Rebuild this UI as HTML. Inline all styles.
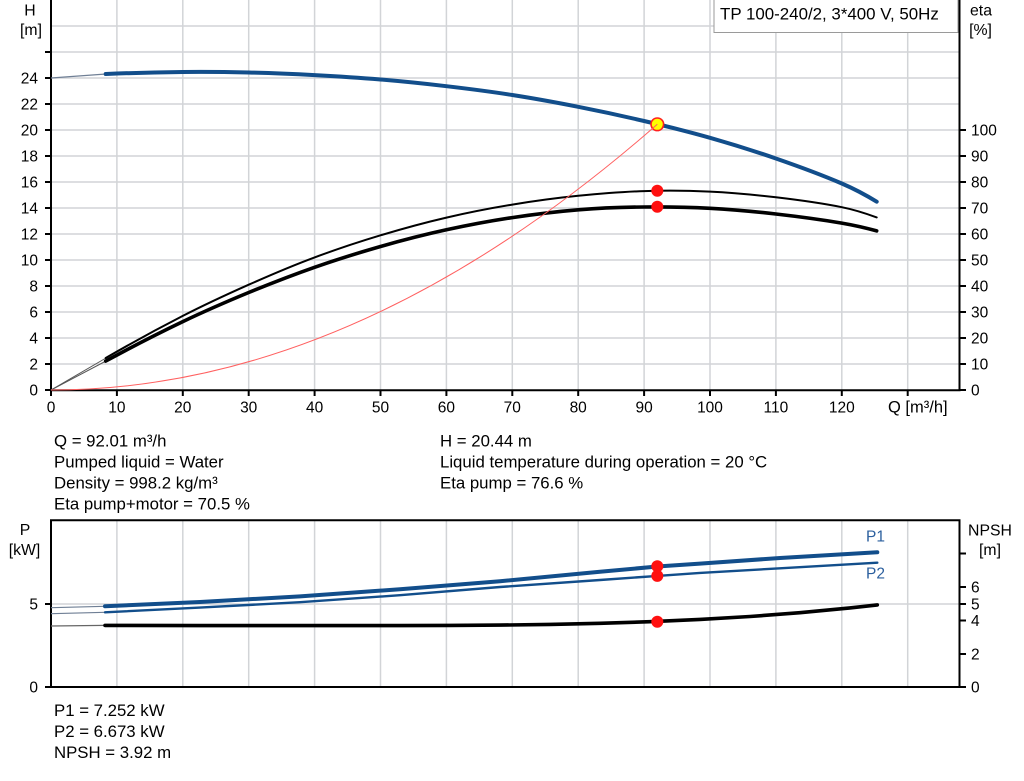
<!DOCTYPE html>
<html>
<head>
<meta charset="utf-8">
<style>
  html,body{margin:0;padding:0;background:#fff;}
  svg{display:block;}
  text{font-family:"Liberation Sans",Arial,sans-serif;fill:#000;}
  .tk{font-size:15.5px;}
  .ax{font-size:15.8px;}
  .info{font-size:16.8px;}
</style>
</head>
<body>
<svg width="1024" height="781" viewBox="0 0 1024 781" xmlns="http://www.w3.org/2000/svg">
  <rect x="0" y="0" width="1024" height="781" fill="#fff"/>

  <!-- ===== TOP CHART GRID ===== -->
  <g stroke="#d2d4d7" stroke-width="1.5" fill="none">
    <line x1="51" y1="364" x2="959" y2="364"/>
    <line x1="51" y1="338" x2="959" y2="338"/>
    <line x1="51" y1="312" x2="959" y2="312"/>
    <line x1="51" y1="286" x2="959" y2="286"/>
    <line x1="51" y1="260" x2="959" y2="260"/>
    <line x1="51" y1="234" x2="959" y2="234"/>
    <line x1="51" y1="208" x2="959" y2="208"/>
    <line x1="51" y1="182" x2="959" y2="182"/>
    <line x1="51" y1="156" x2="959" y2="156"/>
    <line x1="51" y1="130" x2="959" y2="130"/>
    <line x1="51" y1="104" x2="959" y2="104"/>
    <line x1="51" y1="78" x2="959" y2="78"/>
    <line x1="51" y1="52" x2="959" y2="52"/>
    <line x1="51" y1="26" x2="959" y2="26"/>
    <line x1="116.9" y1="0" x2="116.9" y2="390"/>
    <line x1="182.8" y1="0" x2="182.8" y2="390"/>
    <line x1="248.7" y1="0" x2="248.7" y2="390"/>
    <line x1="314.6" y1="0" x2="314.6" y2="390"/>
    <line x1="380.5" y1="0" x2="380.5" y2="390"/>
    <line x1="446.4" y1="0" x2="446.4" y2="390"/>
    <line x1="512.3" y1="0" x2="512.3" y2="390"/>
    <line x1="578.2" y1="0" x2="578.2" y2="390"/>
    <line x1="644.1" y1="0" x2="644.1" y2="390"/>
    <line x1="710" y1="0" x2="710" y2="390"/>
    <line x1="775.9" y1="0" x2="775.9" y2="390"/>
    <line x1="841.8" y1="0" x2="841.8" y2="390"/>
    <line x1="907.7" y1="0" x2="907.7" y2="390"/>
  </g>

  <!-- ===== TOP CHART AXES ===== -->
  <g stroke="#000" stroke-width="2" fill="none">
    <line x1="51" y1="0" x2="51" y2="391"/>
    <line x1="50" y1="390.3" x2="960.5" y2="390.3"/>
    <line x1="959.5" y1="0" x2="959.5" y2="391"/>
    <line x1="45" y1="390" x2="51" y2="390"/>
    <line x1="45" y1="364" x2="51" y2="364"/>
    <line x1="45" y1="338" x2="51" y2="338"/>
    <line x1="45" y1="312" x2="51" y2="312"/>
    <line x1="45" y1="286" x2="51" y2="286"/>
    <line x1="45" y1="260" x2="51" y2="260"/>
    <line x1="45" y1="234" x2="51" y2="234"/>
    <line x1="45" y1="208" x2="51" y2="208"/>
    <line x1="45" y1="182" x2="51" y2="182"/>
    <line x1="45" y1="156" x2="51" y2="156"/>
    <line x1="45" y1="130" x2="51" y2="130"/>
    <line x1="45" y1="104" x2="51" y2="104"/>
    <line x1="45" y1="78" x2="51" y2="78"/>
    <line x1="45" y1="52" x2="51" y2="52"/>
    <line x1="959.5" y1="390" x2="966" y2="390"/>
    <line x1="959.5" y1="364" x2="966" y2="364"/>
    <line x1="959.5" y1="338" x2="966" y2="338"/>
    <line x1="959.5" y1="312" x2="966" y2="312"/>
    <line x1="959.5" y1="286" x2="966" y2="286"/>
    <line x1="959.5" y1="260" x2="966" y2="260"/>
    <line x1="959.5" y1="234" x2="966" y2="234"/>
    <line x1="959.5" y1="208" x2="966" y2="208"/>
    <line x1="959.5" y1="182" x2="966" y2="182"/>
    <line x1="959.5" y1="156" x2="966" y2="156"/>
    <line x1="959.5" y1="130" x2="966" y2="130"/>
    <line x1="51" y1="390" x2="51" y2="396"/>
    <line x1="116.9" y1="390" x2="116.9" y2="396"/>
    <line x1="182.8" y1="390" x2="182.8" y2="396"/>
    <line x1="248.7" y1="390" x2="248.7" y2="396"/>
    <line x1="314.6" y1="390" x2="314.6" y2="396"/>
    <line x1="380.5" y1="390" x2="380.5" y2="396"/>
    <line x1="446.4" y1="390" x2="446.4" y2="396"/>
    <line x1="512.3" y1="390" x2="512.3" y2="396"/>
    <line x1="578.2" y1="390" x2="578.2" y2="396"/>
    <line x1="644.1" y1="390" x2="644.1" y2="396"/>
    <line x1="710" y1="390" x2="710" y2="396"/>
    <line x1="775.9" y1="390" x2="775.9" y2="396"/>
    <line x1="841.8" y1="390" x2="841.8" y2="396"/>
    <line x1="907.7" y1="390" x2="907.7" y2="396"/>
  </g>

  <g class="tk" text-anchor="end">
    <text x="38" y="395.5">0</text>
    <text x="38" y="369.5">2</text>
    <text x="38" y="343.5">4</text>
    <text x="38" y="317.5">6</text>
    <text x="38" y="291.5">8</text>
    <text x="38" y="265.5">10</text>
    <text x="38" y="239.5">12</text>
    <text x="38" y="213.5">14</text>
    <text x="38" y="187.5">16</text>
    <text x="38" y="161.5">18</text>
    <text x="38" y="135.5">20</text>
    <text x="38" y="109.5">22</text>
    <text x="38" y="83.5">24</text>
  </g>
  <g class="tk" text-anchor="start">
    <text x="971" y="395.5">0</text>
    <text x="971" y="369.5">10</text>
    <text x="971" y="343.5">20</text>
    <text x="971" y="317.5">30</text>
    <text x="971" y="291.5">40</text>
    <text x="971" y="265.5">50</text>
    <text x="971" y="239.5">60</text>
    <text x="971" y="213.5">70</text>
    <text x="971" y="187.5">80</text>
    <text x="971" y="161.5">90</text>
    <text x="971" y="135.5">100</text>
  </g>
  <g class="tk" text-anchor="middle">
    <text x="51" y="412.5">0</text>
    <text x="116.9" y="412.5">10</text>
    <text x="182.8" y="412.5">20</text>
    <text x="248.7" y="412.5">30</text>
    <text x="314.6" y="412.5">40</text>
    <text x="380.5" y="412.5">50</text>
    <text x="446.4" y="412.5">60</text>
    <text x="512.3" y="412.5">70</text>
    <text x="578.2" y="412.5">80</text>
    <text x="644.1" y="412.5">90</text>
    <text x="710" y="412.5">100</text>
    <text x="775.9" y="412.5">110</text>
    <text x="841.8" y="412.5">120</text>
  </g>
  <text x="888" y="412.5" style="font-size:16.5px">Q [m³/h]</text>

  <text class="ax" x="30" y="15.5" text-anchor="middle">H</text>
  <text class="ax" x="31" y="35" text-anchor="middle">[m]</text>
  <text class="ax" x="981" y="15.5" text-anchor="middle">eta</text>
  <text class="ax" x="980.5" y="35" text-anchor="middle">[%]</text>

  <!-- legend box -->
  <rect x="714" y="-1" width="244" height="33.5" fill="#fff" stroke="#9a9a9a" stroke-width="1"/>
  <text x="720" y="19.5" style="font-size:16.9px">TP 100-240/2, 3*400 V, 50Hz</text>

  <!-- ===== TOP CURVES ===== -->
  <line x1="51" y1="78" x2="106" y2="74" stroke="#6f7f95" stroke-width="1.2"/>
  <line x1="51" y1="390" x2="106" y2="358" stroke="#555" stroke-width="1"/>
  <line x1="51" y1="390" x2="106" y2="361" stroke="#555" stroke-width="1"/>

  <!-- H curve -->
  <path fill="none" stroke="#124e8b" stroke-width="4" stroke-linecap="round"
    d="M105.7,74 C131.4,72.93 157.1,72.27 182.8,72 C204.8,71.77 226.7,71.98 248.7,72.5 C270.7,73.02 292.6,73.93 314.6,75.1 C336.6,76.27 358.5,77.65 380.5,79.5 C402.5,81.35 424.4,83.62 446.4,86.2 C468.4,88.78 490.3,91.57 512.3,95 C534.3,98.43 556.2,102.47 578.2,106.8 C600.2,111.13 622.1,115.83 644.1,121 C666.1,126.17 688,131.55 710,137.8 C732,144.05 753.9,150.88 775.9,158.5 C797.9,166.12 819.8,174.08 841.8,183.5 C853.4,188.48 865.1,194.56 876.7,201.7"/>
  <!-- eta pump (thin) -->
  <path fill="none" stroke="#000" stroke-width="2" stroke-linecap="round"
    d="M105.7,358 C131.4,343.1 157.1,329.1 182.8,315.9 C204.8,304.6 226.7,294.5 248.7,284.7 C270.7,274.9 292.6,265.6 314.6,257.4 C336.6,249.2 358.5,241.9 380.5,235.3 C402.5,228.7 424.4,222.7 446.4,217.6 C468.4,212.5 490.3,208.2 512.3,204.6 C534.3,201 556.2,198 578.2,195.8 C600.2,193.6 622.1,191.8 644.1,191.1 C666.1,190.4 688,190.6 710,191.6 C732,192.6 753.9,194.7 775.9,197.3 C797.9,199.9 819.8,202.8 841.8,207.2 C853.4,209.5 865.1,213.2 876.7,217.4"/>
  <!-- eta pump+motor (thick) -->
  <path fill="none" stroke="#000" stroke-width="3.6" stroke-linecap="round"
    d="M105.7,361.1 C131.4,347.1 157.1,333.9 182.8,321.6 C204.8,311.1 226.7,301.6 248.7,292.5 C270.7,283.5 292.6,275 314.6,267.3 C336.6,259.6 358.5,252.8 380.5,246.5 C402.5,240.2 424.4,234.6 446.4,229.8 C468.4,225 490.3,220.9 512.3,217.6 C534.3,214.3 556.2,211.6 578.2,209.8 C600.2,208 622.1,207.2 644.1,207 C666.1,206.8 688,207.1 710,208.3 C732,209.5 753.9,211.5 775.9,214 C797.9,216.5 819.8,219.4 841.8,223.1 C853.4,225.1 865.1,227.7 876.7,230.9"/>

  <circle cx="657.3" cy="190.8" r="6" fill="#ff1010"/>
  <circle cx="657.3" cy="206.7" r="6" fill="#ff1010"/>
  <circle cx="657.3" cy="124.3" r="6.3" fill="#ffff00" stroke="#ff2020" stroke-width="1.6"/>
  <path d="M51,390 Q354.2,390 657.3,124.3" fill="none" stroke="#ff6060" stroke-width="1"/>

  <!-- ===== INFO TEXT ===== -->
  <g class="info">
    <text x="54" y="446.7">Q = 92.01 m³/h</text>
    <text x="54" y="467.7">Pumped liquid = Water</text>
    <text x="54" y="488.7">Density = 998.2 kg/m³</text>
    <text x="54" y="509.7">Eta pump+motor = 70.5 %</text>
    <text x="440" y="446.7">H = 20.44 m</text>
    <text x="440" y="467.7">Liquid temperature during operation = 20 °C</text>
    <text x="440" y="488.7">Eta pump = 76.6 %</text>
  </g>

  <!-- ===== BOTTOM CHART ===== -->
  <g stroke="#d2d4d7" stroke-width="1.5" fill="none">
    <line x1="51" y1="604" x2="959" y2="604"/>
    <line x1="116.9" y1="520" x2="116.9" y2="687"/>
    <line x1="182.8" y1="520" x2="182.8" y2="687"/>
    <line x1="248.7" y1="520" x2="248.7" y2="687"/>
    <line x1="314.6" y1="520" x2="314.6" y2="687"/>
    <line x1="380.5" y1="520" x2="380.5" y2="687"/>
    <line x1="446.4" y1="520" x2="446.4" y2="687"/>
    <line x1="512.3" y1="520" x2="512.3" y2="687"/>
    <line x1="578.2" y1="520" x2="578.2" y2="687"/>
    <line x1="644.1" y1="520" x2="644.1" y2="687"/>
    <line x1="710" y1="520" x2="710" y2="687"/>
    <line x1="775.9" y1="520" x2="775.9" y2="687"/>
    <line x1="841.8" y1="520" x2="841.8" y2="687"/>
    <line x1="907.7" y1="520" x2="907.7" y2="687"/>
  </g>
  <g stroke="#000" stroke-width="2" fill="none">
    <line x1="50" y1="520.3" x2="960.5" y2="520.3"/>
    <line x1="51" y1="520" x2="51" y2="688"/>
    <line x1="50" y1="687" x2="960.5" y2="687"/>
    <line x1="959.5" y1="520" x2="959.5" y2="688"/>
    <line x1="45" y1="687" x2="51" y2="687"/>
    <line x1="45" y1="604" x2="51" y2="604"/>
    <line x1="959.5" y1="687" x2="966" y2="687"/>
    <line x1="959.5" y1="654" x2="966" y2="654"/>
    <line x1="959.5" y1="620.5" x2="966" y2="620.5"/>
    <line x1="959.5" y1="604" x2="966" y2="604"/>
    <line x1="959.5" y1="587" x2="966" y2="587"/>
    <line x1="959.5" y1="553.5" x2="966" y2="553.5"/>
  </g>
  <g class="tk" text-anchor="end">
    <text x="38" y="692.5">0</text>
    <text x="38" y="609.5">5</text>
  </g>
  <g class="tk" text-anchor="start">
    <text x="971" y="692.5">0</text>
    <text x="971" y="659.5">2</text>
    <text x="971" y="626">4</text>
    <text x="971" y="609.5">5</text>
    <text x="971" y="592.5">6</text>
  </g>
  <text class="ax" x="25" y="535" text-anchor="middle">P</text>
  <text class="ax" x="24.5" y="555" text-anchor="middle">[kW]</text>
  <text class="ax" x="990" y="535.5" text-anchor="middle">NPSH</text>
  <text class="ax" x="990" y="555" text-anchor="middle">[m]</text>
  <text class="tk" x="866" y="541.7" style="fill:#2b5f9e">P1</text>
  <text class="tk" x="866" y="578.3" style="fill:#2b5f9e">P2</text>

  <line x1="51" y1="607.7" x2="105" y2="606.3" stroke="#6f7f95" stroke-width="1.2"/>
  <line x1="51" y1="613.7" x2="105" y2="612.3" stroke="#6f7f95" stroke-width="1.2"/>
  <line x1="51" y1="626" x2="105" y2="625.4" stroke="#666" stroke-width="1.2"/>

  <polyline fill="none" stroke="#124e8b" stroke-width="4" stroke-linecap="round" stroke-linejoin="round"
    points="105,606.3 200,602.0 300,596.4 400,589.2 500,581.2 600,571.8 657.3,566.5 700,563.6 780,558.0 877.3,552.3"/>
  <polyline fill="none" stroke="#124e8b" stroke-width="2.4" stroke-linecap="round" stroke-linejoin="round"
    points="105,612.3 200,607.6 300,602.2 400,595.2 500,587.0 600,580.0 657.3,575.9 700,572.9 780,568.3 877.3,562.7"/>
  <polyline fill="none" stroke="#000" stroke-width="3.6" stroke-linecap="round" stroke-linejoin="round"
    points="105,625.4 200,625.6 300,625.6 400,625.6 450,625.4 500,625.1 550,624.4 600,623.3 650,621.7 700,619.4 750,616.5 800,612.7 850,607.9 877.3,604.9"/>

  <circle cx="657.3" cy="566.3" r="6" fill="#ff1010"/>
  <circle cx="657.3" cy="575.9" r="6" fill="#ff1010"/>
  <circle cx="657.3" cy="621.8" r="6" fill="#ff1010"/>

  <g class="info">
    <text x="54" y="716">P1 = 7.252 kW</text>
    <text x="54" y="737">P2 = 6.673 kW</text>
    <text x="54" y="758">NPSH = 3.92 m</text>
  </g>
</svg>
</body>
</html>
